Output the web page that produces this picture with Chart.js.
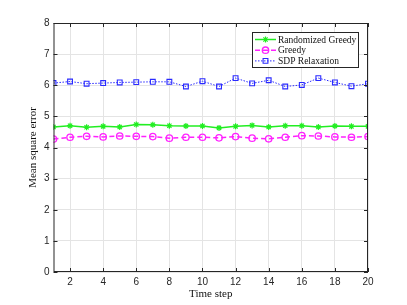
<!DOCTYPE html>
<html>
<head>
<meta charset="utf-8">
<script src="https://cdn.jsdelivr.net/npm/chart.js@4.4.0/dist/chart.umd.min.js"></script>
<style>
  html, body { margin: 0; padding: 0; background: #fff; }
  #wrap { width: 407px; height: 305px; }
</style>
</head>
<body>
<div id="wrap"><canvas id="mseChart"></canvas></div>
<script>
// --- data ---
const timeSteps = [1, 2, 3, 4, 5, 6, 7, 8, 9, 10, 11, 12, 13, 14, 15, 16, 17, 18, 19, 20];
const randomizedGreedy = [4.66, 4.70, 4.65, 4.68, 4.66, 4.74, 4.73, 4.70, 4.69, 4.69, 4.63, 4.68, 4.71, 4.66, 4.70, 4.70, 4.66, 4.69, 4.68, 4.68];
const greedy = [4.27, 4.33, 4.36, 4.34, 4.37, 4.36, 4.35, 4.30, 4.33, 4.33, 4.31, 4.35, 4.30, 4.28, 4.33, 4.38, 4.37, 4.34, 4.33, 4.35];
const sdpRelaxation = [6.07, 6.12, 6.05, 6.07, 6.09, 6.10, 6.11, 6.11, 5.96, 6.13, 5.96, 6.23, 6.06, 6.16, 5.96, 6.01, 6.23, 6.09, 5.97, 6.05];
const xTicks = [2, 4, 6, 8, 10, 12, 14, 16, 18, 20];
const yTicks = [0, 1, 2, 3, 4, 5, 6, 7, 8];

const serif = "'Liberation Serif', 'DejaVu Serif', serif";
const sans = "'Liberation Sans', Arial, sans-serif";
const axisColor = '#262626';

const toPoints = arr => arr.map((v, i) => ({ x: timeSteps[i], y: v }));

// box, inward ticks and the legend, MATLAB style
const matlabBox = {
    id: 'matlabBox',
    afterDraw(chart) {
        const { ctx, chartArea: a, scales } = chart;
        ctx.save();
        ctx.strokeStyle = axisColor;
        ctx.lineWidth = 1;
        ctx.strokeRect(a.left + 0.5, a.top + 0.5, a.right - a.left - 1, a.bottom - a.top - 1);
        ctx.beginPath();
        xTicks.forEach(v => {
            const px = Math.round(scales.x.getPixelForValue(v)) + 0.5;
            ctx.moveTo(px, a.bottom); ctx.lineTo(px, a.bottom - 4);
            ctx.moveTo(px, a.top); ctx.lineTo(px, a.top + 4);
        });
        yTicks.forEach(v => {
            const py = Math.round(scales.y.getPixelForValue(v)) + 0.5;
            ctx.moveTo(a.left, py); ctx.lineTo(a.left + 4, py);
            ctx.moveTo(a.right, py); ctx.lineTo(a.right - 4, py);
        });
        ctx.stroke();

        // legend
        const lx = 252, ly = 32, lw = 106, lh = 35;
        ctx.fillStyle = '#fff';
        ctx.fillRect(lx, ly, lw, lh);
        ctx.strokeStyle = axisColor;
        ctx.strokeRect(lx + 0.5, ly + 0.5, lw, lh);
        ctx.font = '9.5px ' + serif;
        ctx.textBaseline = 'middle';
        chart.data.datasets.forEach((ds, i) => {
            const y = ly + 7.5 + i * 10.7;
            ctx.strokeStyle = ds.borderColor;
            ctx.lineWidth = ds.borderWidth;
            ctx.setLineDash(ds.borderDash || []);
            ctx.beginPath();
            ctx.moveTo(lx + 3, y); ctx.lineTo(lx + 24, y);
            ctx.stroke();
            ctx.setLineDash([]);
            ctx.fillStyle = ds.pointBackgroundColor;
            ctx.strokeStyle = ds.pointBorderColor;
            ctx.lineWidth = ds.pointBorderWidth;
            Chart.helpers.drawPoint(ctx, {
                pointStyle: ds.pointStyle, radius: ds.pointRadius, borderWidth: ds.pointBorderWidth
            }, lx + 13.5, y);
            ctx.fillStyle = '#111';
            ctx.fillText(ds.label, lx + 26, y + 0.5);
        });
        ctx.restore();
    }
};

const ctx = document.getElementById('mseChart').getContext('2d');
new Chart(ctx, {
    type: 'line',
    data: {
        datasets: [
            {
                label: 'Randomized Greedy',
                data: toPoints(randomizedGreedy),
                borderColor: '#22ee22',
                backgroundColor: '#22ee22',
                borderWidth: 1.5,
                pointStyle: 'star',
                pointRadius: 3,
                pointBorderWidth: 1.2,
                pointBorderColor: '#22ee22',
                pointBackgroundColor: '#22ee22'
            },
            {
                label: 'Greedy',
                data: toPoints(greedy),
                borderColor: '#ff22ff',
                backgroundColor: 'transparent',
                borderWidth: 1.5,
                borderDash: [5, 3],
                pointStyle: 'circle',
                pointRadius: 3.2,
                pointBorderWidth: 1.3,
                pointBorderColor: '#ff22ff',
                pointBackgroundColor: 'transparent'
            },
            {
                label: 'SDP Relaxation',
                data: toPoints(sdpRelaxation),
                borderColor: '#2a2aff',
                backgroundColor: 'transparent',
                borderWidth: 1,
                borderDash: [1.5, 1.5],
                pointStyle: 'rect',
                pointRadius: 3.4,
                pointBorderWidth: 1.1,
                pointBorderColor: '#2a2aff',
                pointBackgroundColor: 'transparent'
            }
        ]
    },
    options: {
        responsive: true,
        maintainAspectRatio: false,
        animation: false,
        layout: { padding: { top: 23, right: 39, left: 27, bottom: 0 } },
        plugins: {
            legend: { display: false },
            tooltip: { enabled: false }
        },
        scales: {
            x: {
                type: 'linear',
                min: 1,
                max: 20,
                afterBuildTicks: s => { s.ticks = xTicks.map(v => ({ value: v })); },
                afterFit: s => { s.height = 33; },
                grid: { color: '#e4e4e4', drawTicks: false },
                border: { display: false },
                ticks: { color: axisColor, font: { family: sans, size: 10 }, padding: 4, maxRotation: 0 },
                title: { display: true, text: 'Time step', color: '#111', font: { family: serif, size: 11 }, padding: { top: 0 } }
            },
            y: {
                min: 0,
                max: 8,
                afterBuildTicks: s => { s.ticks = yTicks.map(v => ({ value: v })); },
                afterFit: s => { s.width = 26.5; },
                grid: { color: '#e4e4e4', drawTicks: false },
                border: { display: false },
                ticks: { color: axisColor, font: { family: sans, size: 10 }, padding: 4 },
                title: { display: false }
            }
        }
    },
    plugins: [matlabBox, {
        id: 'yTitle',
        afterDraw(chart) {
            const { ctx, chartArea: a } = chart;
            ctx.save();
            ctx.translate(33, (a.top + a.bottom) / 2);
            ctx.rotate(-Math.PI / 2);
            ctx.font = '11px ' + serif;
            ctx.fillStyle = '#111';
            ctx.textAlign = 'center';
            ctx.textBaseline = 'middle';
            ctx.fillText('Mean square error', 0, 0);
            ctx.restore();
        }
    }]
});
</script>
</body>
</html>
